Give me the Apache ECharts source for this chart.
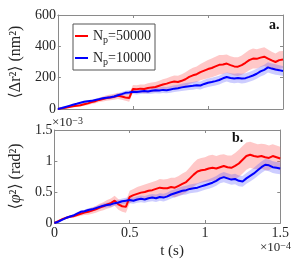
<!DOCTYPE html>
<html><head><meta charset="utf-8">
<script src="https://cdn.jsdelivr.net/npm/echarts@6/dist/echarts.min.js"></script>
<style>html,body{margin:0;padding:0;background:#fff}#c{width:292px;height:270px}</style>
</head><body><div id="c"></div>
<script>
// time (×1e-4 s)
const t = [0,0.025,0.05,0.075,0.1,0.125,0.15,0.175,0.2,0.225,
  0.25,0.275,0.3,0.325,0.35,0.375,0.4,0.425,0.45,0.475,
  0.5,0.525,0.55,0.575,0.6,0.625,0.65,0.675,0.7,0.725,
  0.75,0.775,0.8,0.825,0.85,0.875,0.9,0.925,0.95,0.975,
  1.0,1.025,1.05,1.075,1.1,1.125,1.15,1.175,1.2,1.225,
  1.25,1.275,1.3,1.325,1.35,1.375,1.4,1.425,1.45,1.475,1.5];
// <Δr²> (nm²)
const redTop = [0,4,8,13,17,20,24,30,36,44, 50,58,64,70,74,78,84,80,74,70,
  128,126,130,128,134,138,140,148,156,162, 170,176,172,180,190,205,215,222,235,245,
  255,262,272,282,284,290,280,272,270,280, 295,312,322,320,328,334,322,310,300,312, 316];
const blueTop = [0,6,13,20,27,33,40,46,50,52, 58,63,68,72,75,80,88,95,103,106,
  110,108,112,115,112,116,120,118,122,120, 125,130,133,138,142,145,148,152,150,160,
  168,172,178,185,196,204,198,195,198,194, 197,205,214,225,240,250,266,258,252,248, 242];
const errRedTop = [0,2,3,5,6,7,8,10,11,12, 13,14,16,17,18,19,20,21,22,24,
  25,26,27,28,30,31,32,33,34,35, 36,38,40,42,44,46,48,50,52,55,
  58,60,62,62,60,58,57,58,60,62, 64,65,64,62,60,60,58,56,55,56, 55];
const errBlueTop = [0,1,2,3,4,4,5,6,7,7, 8,9,9,10,11,11,12,13,13,14,
  15,15,16,17,17,18,19,19,20,20, 21,22,22,23,24,24,25,25,26,26,
  27,27,28,28,29,29,30,30,30,31, 31,31,32,32,32,33,33,33,33,32, 32];
// <φ²> (×1e-3 rad²)
const redBot = [0,0.03,0.06,0.08,0.10,0.11,0.13,0.15,0.17,0.18, 0.20,0.22,0.25,0.27,0.30,0.32,0.36,0.30,0.27,0.26,
  0.42,0.45,0.47,0.49,0.50,0.52,0.53,0.55,0.57,0.56, 0.56,0.58,0.57,0.60,0.63,0.66,0.72,0.78,0.83,0.85,
  0.86,0.88,0.89,0.88,0.90,0.92,0.90,0.89,0.92,0.96, 1.02,1.08,1.10,1.08,1.07,1.08,1.06,1.05,1.08,1.06, 1.04];
const blueBot = [0,0.02,0.05,0.08,0.10,0.12,0.15,0.18,0.19,0.21, 0.22,0.24,0.26,0.28,0.29,0.30,0.32,0.33,0.35,0.36,
  0.37,0.36,0.38,0.39,0.38,0.40,0.41,0.40,0.42,0.41, 0.43,0.46,0.48,0.50,0.52,0.53,0.55,0.56,0.57,0.59,
  0.61,0.63,0.65,0.68,0.72,0.74,0.72,0.70,0.71,0.68, 0.67,0.72,0.76,0.80,0.85,0.90,0.94,0.93,0.90,0.89, 0.88];
const errRedBot = [0,0.005,0.01,0.015,0.02,0.025,0.03,0.035,0.04,0.045, 0.05,0.055,0.06,0.065,0.07,0.075,0.08,0.085,0.09,0.095,
  0.10,0.10,0.11,0.11,0.12,0.12,0.13,0.13,0.14,0.14, 0.15,0.15,0.16,0.16,0.17,0.17,0.18,0.19,0.20,0.20,
  0.20,0.21,0.21,0.20,0.20,0.19,0.19,0.20,0.21,0.22, 0.22,0.22,0.21,0.21,0.20,0.20,0.21,0.20,0.19,0.19, 0.19];
const errBlueBot = [0,0.004,0.008,0.012,0.015,0.018,0.02,0.022,0.025,0.027, 0.03,0.032,0.034,0.036,0.038,0.04,0.042,0.044,0.046,0.048,
  0.05,0.05,0.052,0.054,0.055,0.056,0.058,0.06,0.06,0.062, 0.063,0.064,0.066,0.067,0.068,0.07,0.07,0.072,0.073,0.074,
  0.075,0.076,0.078,0.08,0.08,0.082,0.083,0.084,0.085,0.086, 0.087,0.088,0.09,0.09,0.092,0.093,0.094,0.095,0.095,0.095, 0.095];
const xTicks = [0, 0.5, 1, 1.5];
const yTicksTop = [0, 200, 400, 600];
const yTicksBot = [0, 0.5, 1, 1.5];
const names = ['Np=50000', 'Np=10000'];

const FONT = "'Liberation Serif','DejaVu Serif',serif";
const LINE = '#8a8a8a', TXT = '#262626';
const RED = '#ff0000', BLUE = '#0000ff';
const RED_BAND = 'rgba(255,110,110,0.38)', BLUE_BAND = 'rgba(90,90,255,0.3)';

function xAx(grid, pos, labels) {
  return { type:'value', gridIndex:grid, position:pos, min:0, max:1.5, interval:0.5,
    axisLine:{show:true, onZero:false, lineStyle:{color:LINE, width:1}},
    axisTick:{show:true, inside:true, length:3, lineStyle:{color:LINE}},
    axisLabel:{show:labels, color:TXT, fontFamily:FONT, fontSize:14, margin:3,
      formatter: v => String(v)},
    splitLine:{show:false} };
}
function yAx(grid, pos, max, labels, name) {
  return { type:'value', gridIndex:grid, position:pos, min:0, max:max, interval:max/3,
    axisLine:{show:true, onZero:false, lineStyle:{color:LINE, width:1}},
    axisTick:{show:true, inside:true, length:3, lineStyle:{color:LINE}},
    axisLabel:{show:labels, color:TXT, fontFamily:FONT, fontSize:14, margin:2,
      formatter: v => String(+v.toFixed(3))},
    splitLine:{show:false},
    name: name || '', nameLocation:'middle', nameGap:27, nameRotate:90,
    nameTextStyle:{color:TXT, fontFamily:FONT, fontSize:16,
      rich:{i:{fontStyle:'italic', fontFamily:FONT, fontSize:16, color:TXT}}} };
}
function pairs(xs, ys) { return xs.map((x,i)=>[x, ys[i]]); }
function band(grid, mean, err, color) {
  return { type:'custom', xAxisIndex:grid*2, yAxisIndex:grid*2, silent:true, z:1,
    data:[[0, 0]],
    renderItem:(params, api) => {
      const up = t.map((x,i)=>api.coord([x, mean[i]+err[i]]));
      const dn = t.map((x,i)=>api.coord([x, mean[i]-err[i]])).reverse();
      return { type:'polygon', shape:{points: up.concat(dn)}, style:{fill:color}, silent:true };
    } };
}
function mean(grid, ys, color, name) {
  return { type:'line', name:name, xAxisIndex:grid*2, yAxisIndex:grid*2, symbol:'none', showSymbol:false,
    data:pairs(t, ys), lineStyle:{color:color, width:2}, itemStyle:{color:color}, z:3 };
}

const chart = echarts.init(document.getElementById('c'), null, {renderer:'canvas'});
chart.setOption({
  animation:false,
  backgroundColor:'#fff',
  grid:[{left:51, top:15, width:232, height:94}, {left:51, top:130, width:232, height:93}],
  xAxis:[xAx(0,'bottom',false), xAx(0,'top',false), xAx(1,'bottom',true), xAx(1,'top',false)],
  yAxis:[yAx(0,'left',600,true,'⟨Δr²⟩ (nm²)'), yAx(0,'right',600,false),
         yAx(1,'left',1.5,true,'⟨{i|φ}²⟩ (rad²)'), yAx(1,'right',1.5,false)],
  legend:{ data:names.map(n=>({name:n, icon:'rect'})), orient:'vertical', left:73, top:24,
    borderColor:'#555', borderWidth:1,
    backgroundColor:'#fff', padding:[3,4,3,2], itemGap:4, itemWidth:13, itemHeight:2,
    formatter: n => 'N{p|p}' + n.slice(2),
    textStyle:{color:TXT, fontFamily:FONT, fontSize:14, lineHeight:18,
      rich:{p:{fontSize:10, fontFamily:FONT, color:TXT, verticalAlign:'bottom', lineHeight:18, padding:[8,0,0,0]}}} },
  series:[
    band(0, redTop, errRedTop, RED_BAND),
    band(0, blueTop, errBlueTop, BLUE_BAND),
    mean(0, redTop, RED, names[0]),
    mean(0, blueTop, BLUE, names[1]),
    band(1, redBot, errRedBot, RED_BAND),
    band(1, blueBot, errBlueBot, BLUE_BAND),
    mean(1, redBot, RED, names[0]),
    mean(1, blueBot, BLUE, names[1])
  ],
  graphic:[
    {type:'text', left:269, top:18, style:{text:'a.', font:"bold 14px 'Liberation Serif'", fill:'#111'}},
    {type:'text', left:232, top:131, style:{text:'b.', font:"bold 14px 'Liberation Serif'", fill:'#111'}},
    {type:'text', x:172, y:251, style:{text:'t (s)', fontFamily:FONT, fontSize:15, fill:TXT, align:'center', verticalAlign:'middle'}},
    {type:'text', x:291, y:248, style:{text:'×10{s|−4}', fontFamily:FONT, fontSize:13, fill:TXT, align:'right', verticalAlign:'middle',
      rich:{s:{fontSize:10, fontFamily:FONT, verticalAlign:'top', lineHeight:14}}}},
    {type:'text', x:52, y:123, style:{text:'×10{s|−3}', fontFamily:FONT, fontSize:13, fill:TXT, align:'left', verticalAlign:'middle',
      rich:{s:{fontSize:10, fontFamily:FONT, verticalAlign:'top', lineHeight:14}}}}
  ]
});
</script></body></html>
